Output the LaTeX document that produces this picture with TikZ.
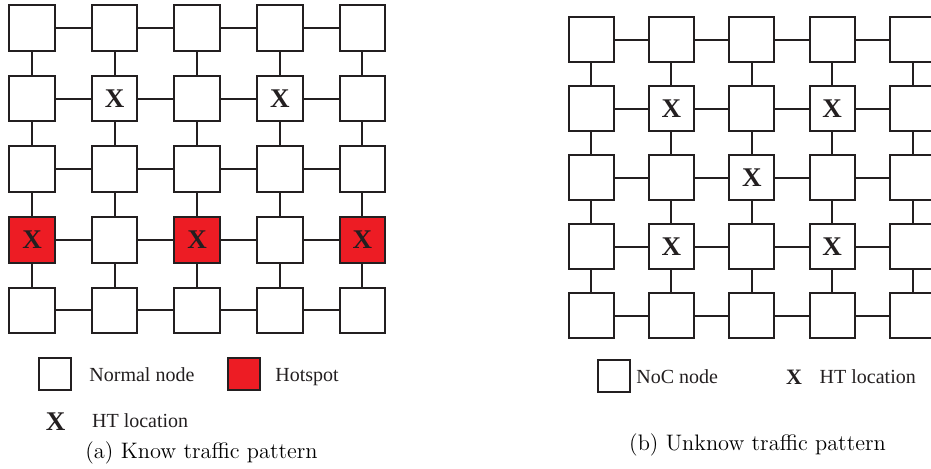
\documentclass[tikz,border=0pt]{standalone}
\usepackage{fontspec}
\usepackage{tikz}
\usetikzlibrary{positioning}
\newfontfamily\legendfont{Liberation Serif}
\definecolor{HotRed}{HTML}{ED1C24}
\definecolor{EdgeBlack}{HTML}{231F20}

\begin{document}
\begin{tikzpicture}[
    x=0.5pt, y=0.5pt,
    router/.style={rectangle, draw=EdgeBlack, fill=white, line width=1pt, minimum size=22.8pt, inner sep=0pt},
    noc/.style={router, minimum size=22.5pt},
    keybox/.style={router, minimum size=16pt},
    link/.style={draw=EdgeBlack, line width=1pt},
    htmark/.style={font=\legendfont\bfseries\fontsize{13.5}{15}\selectfont, text=EdgeBlack, inner sep=0pt},
    keytext/.style={font=\legendfont\fontsize{10}{12}\selectfont, text=EdgeBlack, inner sep=0pt, anchor=base west},
    caption/.style={font=\fontsize{11.2}{13}\selectfont, inner sep=0pt, anchor=base},
    hot 1-4/.style={fill=HotRed},
    hot 3-4/.style={fill=HotRed},
    hot 5-4/.style={fill=HotRed}
]
    \clip (0,0) rectangle (931,468);

    % (a) mesh with hotspots
    \foreach \c in {1,...,5}
      \foreach \r in {1,...,5}
        \node[router, hot \c-\r/.try] (known-\c-\r) at ({32+82.6*(\c-1)}, {440-70.6*(\r-1)}) {};
    \foreach \c in {1,...,4} {
      \pgfmathtruncatemacro\nc{\c+1}
      \foreach \r in {1,...,5}
        \draw[link] (known-\c-\r) -- (known-\nc-\r);
    }
    \foreach \r in {1,...,4} {
      \pgfmathtruncatemacro\nr{\r+1}
      \foreach \c in {1,...,5}
        \draw[link] (known-\c-\r) -- (known-\c-\nr);
    }
    \foreach \c/\r in {2/2, 4/2, 1/4, 3/4, 5/4}
      \node[htmark] (ht-known-\c-\r) at (known-\c-\r) {X};

    % (a) legend
    \node[keybox] (key-normal) at (55,94) {};
    \node[keytext] (key-normal-txt) at (89,87) {Normal node};
    \node[keybox, fill=HotRed] (key-hot) at (243.5,94) {};
    \node[keytext] (key-hot-txt) at (275,87) {Hotspot};
    \node[htmark, anchor=base] (key-ht) at (55.5,38) {X};
    \node[keytext] (key-ht-txt) at (91.7,41) {HT location};
    \node[caption] (cap-a) at (201.5,10) {(a) Know traffic pattern};

    % (b) mesh, HT placement without traffic knowledge
    \foreach \c in {1,...,5}
      \foreach \r in {1,...,5}
        \node[noc] (unkn-\c-\r) at ({591+80.4*(\c-1)}, {428.5-69*(\r-1)}) {};
    \foreach \c in {1,...,4} {
      \pgfmathtruncatemacro\nc{\c+1}
      \foreach \r in {1,...,5}
        \draw[link] (unkn-\c-\r) -- (unkn-\nc-\r);
    }
    \foreach \r in {1,...,4} {
      \pgfmathtruncatemacro\nr{\r+1}
      \foreach \c in {1,...,5}
        \draw[link] (unkn-\c-\r) -- (unkn-\c-\nr);
    }
    \foreach \c/\r in {2/2, 4/2, 3/3, 2/4, 4/4}
      \node[htmark] (ht-unkn-\c-\r) at (unkn-\c-\r) {X};

    % (b) legend
    \node[keybox] (key-noc) at (613.7,91.7) {};
    \node[keytext] (key-noc-txt) at (636,85) {NoC node};
    \node[htmark, anchor=base, font=\legendfont\bfseries\fontsize{11}{13}\selectfont] (key-ht-b) at (794,84) {X};
    \node[keytext] (key-ht-b-txt) at (819.3,85) {HT location};
    \node[caption] (cap-b) at (757.5,18) {(b) Unknow traffic pattern};
\end{tikzpicture}
\end{document}
